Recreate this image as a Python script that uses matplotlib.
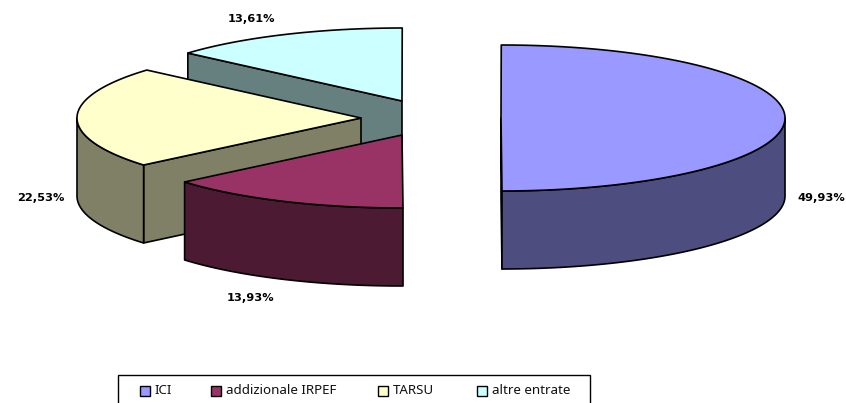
import numpy as np
import matplotlib
matplotlib.use('Agg')
import matplotlib.pyplot as plt
from matplotlib.patches import Polygon, Rectangle

# Share of each revenue source
categories = ['ICI', 'addizionale IRPEF', 'TARSU', 'altre entrate']
values = [49.93, 13.93, 22.53, 13.61]
value_labels = ['49,93%', '13,93%', '22,53%', '13,61%']

top_colors = ['#9999FF', '#993366', '#FFFFCC', '#CCFFFF']
side_colors = ['#4D4D80', '#4D1A33', '#808066', '#668080']

# Pie centre of each exploded slice, in pixels
centers = [(501, 118), (402, 135), (361, 118), (402, 101)]
label_pos = [(821, 198), (251, 298), (41, 198), (251, 19)]
legend_x = [139.5, 211, 378, 477]

RX = 284
RY = 73
DEPTH = 78
START = 0.05
LW = 1.2

fig = plt.figure(figsize=(8.46, 4.03), dpi=100)
ax = fig.add_axes([0, 0, 1, 1])
ax.set_xlim(0, 846)
ax.set_ylim(403, 0)
ax.axis('off')


def arc(cx, cy, a0, a1):
    # angles are clockwise from the top of the pie
    t = np.radians(np.linspace(a0, a1, 200))
    return np.column_stack([cx + RX * np.sin(t), cy - RY * np.cos(t)])


def wall(points, color):
    low = points + [0, DEPTH]
    ax.add_patch(Polygon(np.vstack([points, low[::-1]]), closed=True, fc=color,
                         ec='black', lw=LW, joinstyle='round'))


edges = START + np.cumsum([0] + values) * 3.6

# back slices first so the front ones cover them
for i in [3, 2, 1, 0]:
    cx, cy = centers[i]
    a0, a1 = edges[i], edges[i + 1]
    pts = arc(cx, cy, a0, a1)
    apex = np.array([[cx, cy]])

    # cut faces that look towards the viewer
    if a0 > 180:
        wall(np.vstack([apex, pts[:1]]), side_colors[i])
    if a1 <= 180:
        wall(np.vstack([apex, pts[-1:]]), side_colors[i])

    # outer wall, only the part on the front of the pie
    vis0 = max(a0, 90)
    vis1 = min(a1, 270)
    if vis1 > vis0:
        wall(arc(cx, cy, vis0, vis1), side_colors[i])

    ax.add_patch(Polygon(np.vstack([apex, pts]), closed=True, fc=top_colors[i],
                         ec='black', lw=LW, joinstyle='round'))

for (x, y), lab in zip(label_pos, value_labels):
    ax.text(x, y, lab, ha='center', va='center', fontsize=8.2, fontweight='bold',
            family='DejaVu Sans', color='black')

# legend box runs off the bottom of the picture
ax.add_patch(Rectangle((117.5, 374.5), 472, 40, fc='white', ec='black', lw=1))
for x, name, color in zip(legend_x, categories, top_colors):
    ax.add_patch(Rectangle((x, 386), 10, 10, fc=color, ec='black', lw=1))
    ax.text(x + 15, 391, name, ha='left', va='center', fontsize=9.6,
            family='Noto Sans', color='#111111')

fig.savefig('out.png', dpi=100)
